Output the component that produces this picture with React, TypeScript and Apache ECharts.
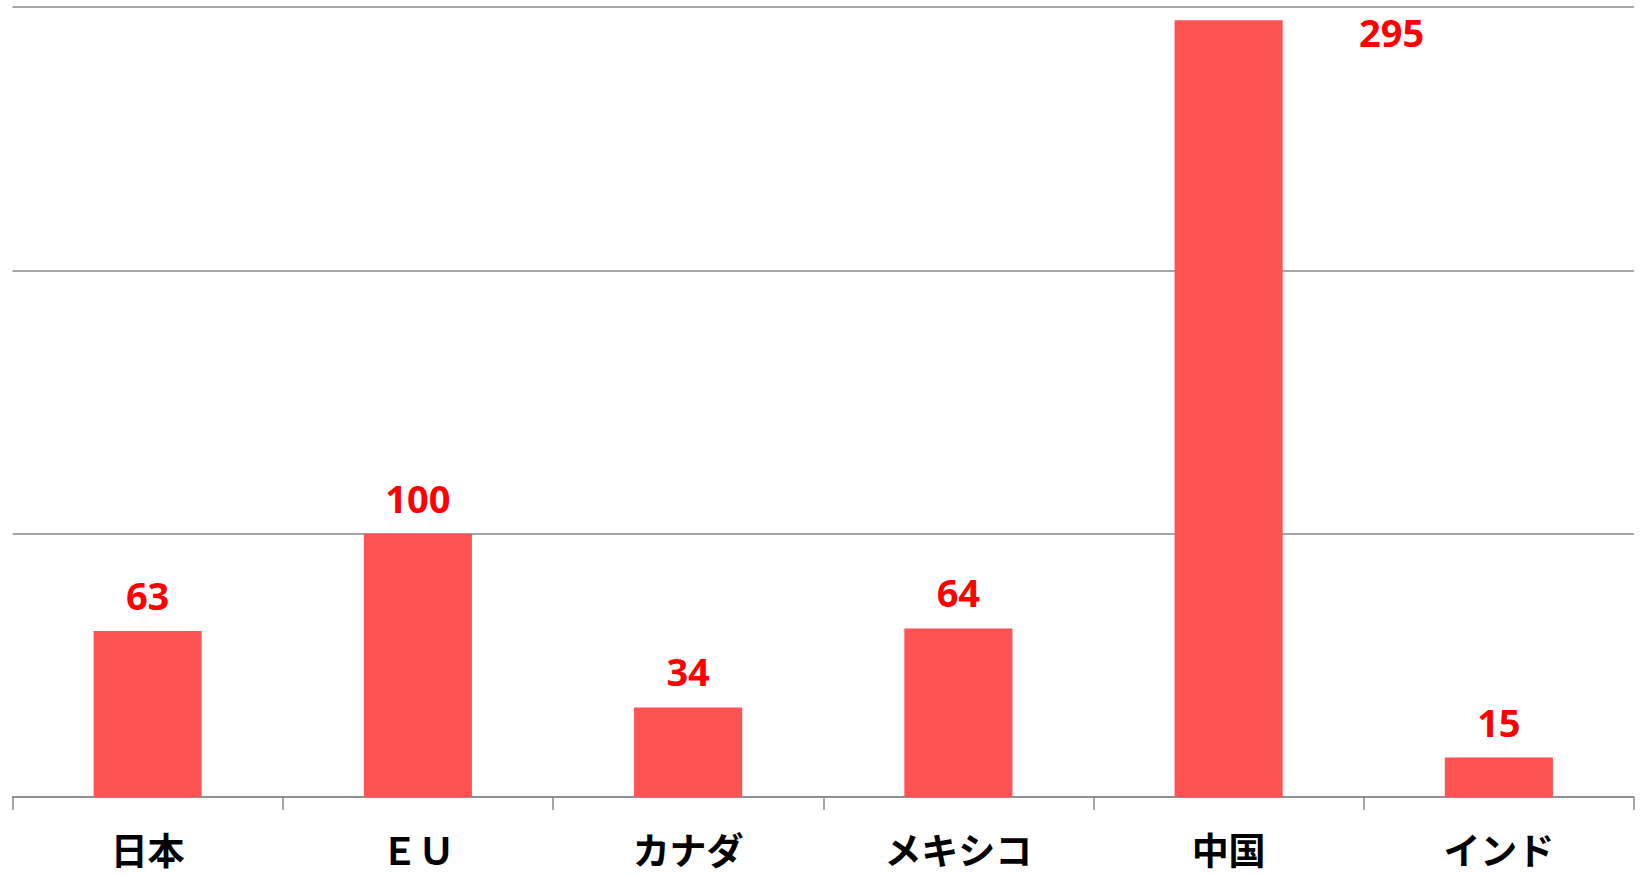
import React, { useEffect, useRef } from "react";
import * as echarts from "echarts";

const categories = ["日本", "ＥＵ", "カナダ", "メキシコ", "中国", "インド"];
const values = [63, 100, 34, 64, 295, 15];
const yMax = 300;
const yInterval = 100;

export default function App() {
  const ref = useRef<HTMLDivElement>(null);
  useEffect(() => {
    if (!ref.current) return;
    const chart = echarts.init(ref.current, null, { renderer: "svg" });
    const data = values.map((v) => {
      if (v === 295) {
        return {
          value: v,
          label: {
            position: [217, 12] as any,
            align: "center",
            verticalAlign: "middle",
          },
        };
      }
      return { value: v };
    });
    chart.setOption({
      animation: false,
      grid: { left: 12.5, right: 6, top: 7, bottom: 79, containLabel: false },
      xAxis: {
        type: "category",
        data: categories,
        axisLine: { show: true, lineStyle: { color: "#898989", width: 1.5 } },
        axisTick: { show: true, length: 13, lineStyle: { color: "#898989", width: 1.5 } },
        axisLabel: {
          margin: 34,
          fontSize: 37,
          lineHeight: 36,
          fontWeight: "bold",
          color: "#000",
          fontFamily: "Noto Sans CJK JP",
        },
      },
      yAxis: {
        type: "value",
        min: 0,
        max: yMax,
        interval: yInterval,
        axisLabel: { show: false },
        axisLine: { show: false },
        axisTick: { show: false },
        splitLine: {
          show: true,
          showMaxLine: true,
          lineStyle: { color: "#898989", width: 1.5 },
        },
      },
      series: [
        {
          type: "bar",
          data,
          barWidth: "40%",
          itemStyle: { color: "#FF5252" },
          label: {
            show: true,
            position: "top",
            distance: 17,
            color: "#FF0000",
            fontSize: 38,
            fontWeight: "bold",
            fontFamily: "Open Sans",
          },
        },
      ],
    });
    return () => chart.dispose();
  }, []);
  return (
    <div
      ref={ref}
      style={{ position: "absolute", left: 0, top: 0, width: 1640, height: 876 }}
    />
  );
}
